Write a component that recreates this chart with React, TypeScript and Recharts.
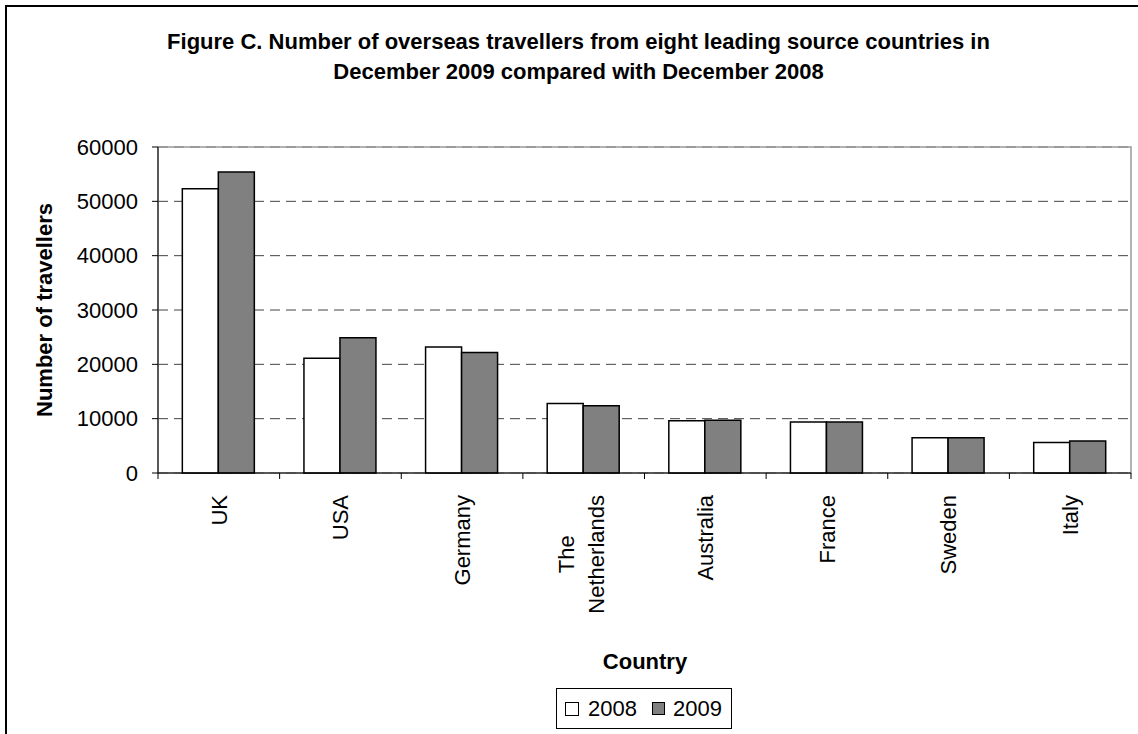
import { BarChart, Bar, XAxis, YAxis, CartesianGrid, Legend, ReferenceArea } from 'recharts';

const countries = ['UK', 'USA', 'Germany', 'The Netherlands', 'Australia', 'France', 'Sweden', 'Italy'];
const travellers2008 = [52300, 21100, 23200, 12800, 9600, 9400, 6500, 5600];
const travellers2009 = [55400, 24900, 22200, 12400, 9700, 9400, 6500, 5900];
const yTicks = [0, 10000, 20000, 30000, 40000, 50000, 60000];

const data = countries.map((country, i) => ({
  country,
  y2008: travellers2008[i],
  y2009: travellers2009[i],
}));

const FONT = "'Liberation Sans', Arial, sans-serif";
const W = 1138;
const H = 734;
const M = { top: 147, right: 7, bottom: 0, left: 0 };
const Y_AXIS_W = 158;
const X_AXIS_H = 261;
const BAND = (W - M.left - M.right - Y_AXIS_W) / countries.length;

let ctx: CanvasRenderingContext2D | null = null;
function textWidth(s: string) {
  if (!ctx) ctx = document.createElement('canvas').getContext('2d');
  if (!ctx) return s.length * 11;
  ctx.font = `22px ${FONT}`;
  return ctx.measureText(s).width;
}

// rotated category label plus boundary tick marks
const CountryTick = (props: any) => {
  const { x, y, payload, index } = props;
  const lines = String(payload.value).split(' ');
  const half = BAND / 2;
  const longest = Math.max(...lines.map(textWidth));
  const mid = y + 22 + longest / 2;
  return (
    <g>
      <line x1={x - half} x2={x - half} y1={y} y2={y + 6} stroke="#000" />
      {index === countries.length - 1 && (
        <line x1={x + half} x2={x + half} y1={y} y2={y + 6} stroke="#000" />
      )}
      {lines.map((line, i) => {
        const off = lines.length === 1 ? 0 : (i - (lines.length - 1) / 2) * 30 - 3;
        return (
          <text
            key={i}
            x={x}
            y={mid}
            dy={off + 7.9}
            transform={`rotate(-90, ${x}, ${mid})`}
            textAnchor="middle"
            fontSize={22}
            fontFamily={FONT}
            fill="#000"
          >
            {line}
          </text>
        );
      })}
    </g>
  );
};

const LegendBox = () => (
  <div
    style={{
      boxSizing: 'border-box',
      width: 176,
      height: 41,
      border: '1px solid #000',
      display: 'flex',
      alignItems: 'center',
      paddingLeft: 8,
      fontFamily: FONT,
      fontSize: 22,
      color: '#000',
      background: '#fff',
    }}
  >
    <span style={{ width: 12, height: 12, border: '1.5px solid #000', background: '#fff', marginRight: 9 }} />
    <span style={{ marginRight: 15 }}>2008</span>
    <span style={{ width: 11, height: 11, border: '1.5px solid #000', background: '#808080', marginRight: 8 }} />
    <span>2009</span>
  </div>
);

export default function App() {
  return (
    <div style={{ position: 'absolute', left: 0, top: 0, width: W, height: H, overflow: 'hidden', background: '#fff' }}>
      <div
        style={{
          position: 'absolute',
          left: 5,
          top: 5,
          width: 1400,
          height: 1000,
          border: '2.5px solid #000',
        }}
      />
      <div
        style={{
          position: 'absolute',
          top: 27,
          left: 0,
          width: 1157,
          textAlign: 'center',
          fontFamily: FONT,
          fontWeight: 'bold',
          fontSize: 22,
          lineHeight: '30px',
          color: '#000',
        }}
      >
        Figure C. Number of overseas travellers from eight leading source countries in
        <br />
        December 2009 compared with December 2008
      </div>
      <div
        style={{
          position: 'absolute',
          left: 45,
          top: 310,
          transform: 'translate(-50%, -50%) rotate(-90deg)',
          whiteSpace: 'nowrap',
          fontFamily: FONT,
          fontWeight: 'bold',
          fontSize: 22,
          lineHeight: '22px',
          color: '#000',
        }}
      >
        Number of travellers
      </div>
      <div
        style={{
          position: 'absolute',
          left: 645,
          top: 662,
          transform: 'translate(-50%, -50%)',
          whiteSpace: 'nowrap',
          fontFamily: FONT,
          fontWeight: 'bold',
          fontSize: 22,
          lineHeight: '22px',
          color: '#000',
        }}
      >
        Country
      </div>
      <div style={{ position: 'absolute', left: 0, top: 0 }}>
        <BarChart width={W} height={H} data={data} margin={M} barCategoryGap="20%" barGap={0}>
          <CartesianGrid vertical={false} stroke="#444" strokeDasharray="10 6" />
          {/* plot area frame */}
          <ReferenceArea
            x1="UK"
            x2="Italy"
            y1={0}
            y2={60000}
            fill="none"
            fillOpacity={0}
            stroke="#999"
            strokeWidth={1.5}
          />
          <XAxis
            dataKey="country"
            height={X_AXIS_H}
            interval={0}
            tickSize={0}
            tickMargin={0}
            tickLine={false}
            axisLine={{ stroke: '#000' }}
            tick={<CountryTick />}
          />
          <YAxis
            width={Y_AXIS_W}
            domain={[0, 60000]}
            ticks={yTicks}
            interval={0}
            tickSize={6}
            tickMargin={14}
            axisLine={{ stroke: '#000' }}
            tickLine={{ stroke: '#000' }}
            tick={{ fill: '#000', fontSize: 22, fontFamily: FONT }}
          />
          <Legend
            layout="horizontal"
            verticalAlign="middle"
            align="center"
            wrapperStyle={{ left: 556, top: 688, width: 176, height: 41 }}
            content={() => <LegendBox />}
          />
          <Bar dataKey="y2008" name="2008" fill="#fff" stroke="#000" strokeWidth={1.5} isAnimationActive={false} />
          <Bar dataKey="y2009" name="2009" fill="#808080" stroke="#000" strokeWidth={1.5} isAnimationActive={false} />
        </BarChart>
      </div>
    </div>
  );
}
